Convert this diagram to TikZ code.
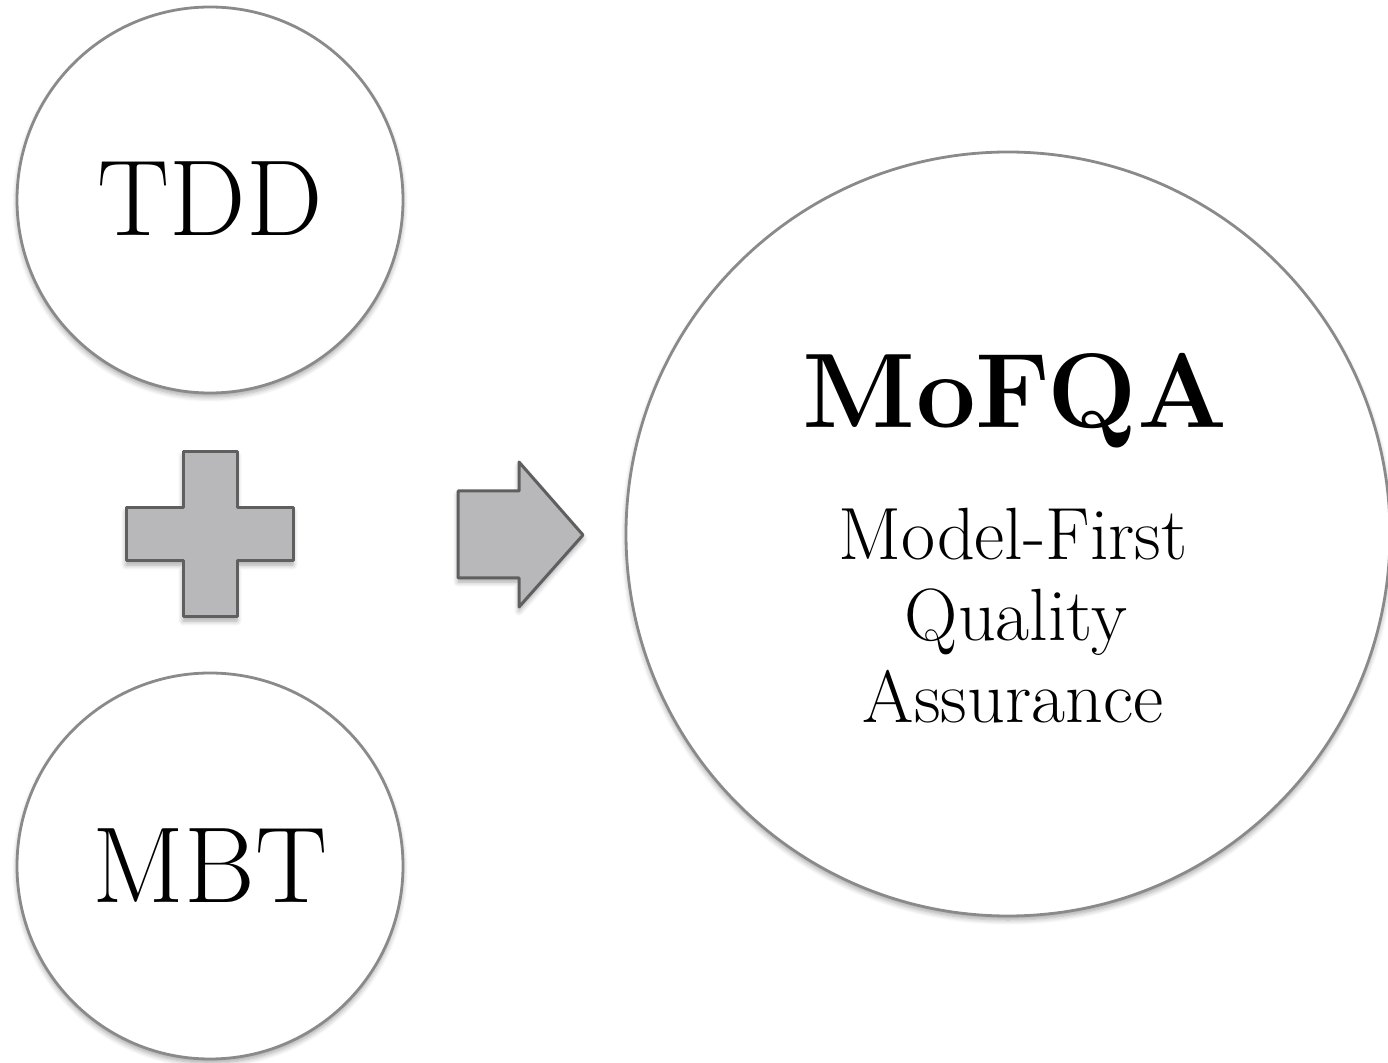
\documentclass[tikz,border=0pt]{standalone}
\usetikzlibrary{shadows.blur}
\definecolor{ringgray}{HTML}{8A8A8A}
\definecolor{shapefill}{HTML}{B8B8BA}
\definecolor{shapeline}{HTML}{5F5F5F}
\tikzset{
  softshadow/.style={blur shadow={shadow xshift=0pt, shadow yshift=-2pt,
      shadow blur steps=6, shadow blur radius=2.5pt, shadow opacity=35}},
  bubble/.style={circle, draw=ringgray, line width=1.4pt, fill=white,
      inner sep=0pt, softshadow},
  bigword/.style={font=\fontsize{54}{60}\selectfont, anchor=base},
  titleword/.style={font=\fontsize{53}{60}\selectfont\bfseries, anchor=base},
  subword/.style={font=\fontsize{37}{42}\selectfont, anchor=base},
  symbolshape/.style={fill=shapefill, draw=shapeline, line width=1.5pt,
      line join=round, softshadow}
}
\begin{document}
\begin{tikzpicture}[x=0.5pt, y=-0.5pt]
  \useasboundingbox (0,0) rectangle (1388,1063);

  % the two source circles
  \node[bubble, minimum size=193pt] (tdd) at (210,200) {};
  \node[bubble, minimum size=193pt] (mbt) at (210,866) {};
  \node[bigword] (tddlabel) at (210,236) {TDD};
  \node[bigword] (mbtlabel) at (210,903) {MBT};

  % the resulting circle
  \node[bubble, minimum size=382pt] (mofqa) at (1008,534) {};
  \node[titleword] (title) at (1015,428) {MoFQA};
  \node[subword] (line1) at (1013,560) {Model-First};
  \node[subword] (line2) at (1016,641) {Quality};
  \node[subword] (line3) at (1013,723) {Assurance};

  % plus sign between the sources
  \draw[symbolshape]
    (183,452) -- (237,452) -- (237,508) -- (293,508) -- (293,561)
    -- (237,561) -- (237,617) -- (183,617) -- (183,561) -- (126,561)
    -- (126,508) -- (183,508) -- cycle;

  % block arrow towards the result
  \draw[symbolshape]
    (458,491) -- (519,491) -- (519,462) -- (583,535) -- (519,607)
    -- (519,578) -- (458,578) -- cycle;
\end{tikzpicture}
\end{document}
